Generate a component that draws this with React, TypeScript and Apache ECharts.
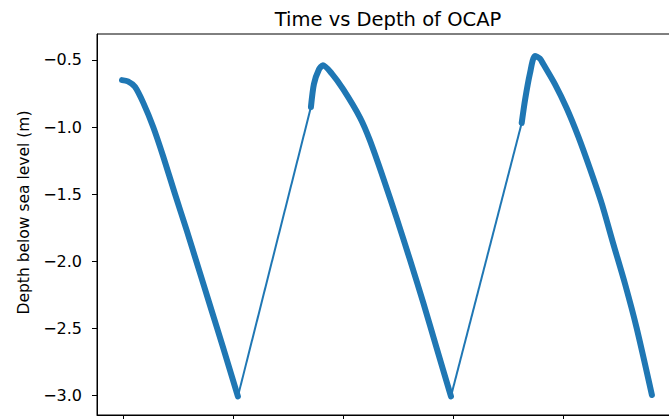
import React, { useEffect, useRef } from "react";
import * as echarts from "echarts";

// Time (x units; tick marks at whole units, labels cut off in the reference)
const timeSeg1 = [-0.009, 0.045, 0.109, 0.185, 0.275, 0.366, 0.473, 0.579, 0.685, 0.791, 0.912, 1.045];
const depthSeg1 = [-0.65, -0.66, -0.7, -0.82, -1.0, -1.22, -1.5, -1.77, -2.05, -2.33, -2.65, -3.01];

const timeSeg2 = [1.709, 1.736, 1.782, 1.818, 1.897, 2.003, 2.155, 2.245, 2.366, 2.488, 2.609, 2.73, 2.852, 2.982];
const depthSeg2 = [-0.85, -0.68, -0.57, -0.54, -0.6, -0.72, -0.93, -1.1, -1.38, -1.68, -1.99, -2.31, -2.65, -3.01];

const timeSeg3 = [3.625, 3.655, 3.7, 3.745, 3.791, 3.821, 3.927, 4.034, 4.139, 4.245, 4.352, 4.457, 4.564, 4.67, 4.809];
const depthSeg3 = [-0.97, -0.8, -0.6, -0.47, -0.49, -0.53, -0.68, -0.86, -1.07, -1.31, -1.57, -1.87, -2.17, -2.5, -3.0];

const xTicks = [0, 1, 2, 3, 4, 5];
const yTicks = [-3.0, -2.5, -2.0, -1.5, -1.0, -0.5];

const TITLE = "Time vs Depth of OCAP";
const Y_LABEL = "Depth below sea level (m)";
const COLOR = "#1f77b4";
const FONT = "DejaVu Sans";

const pairs = (xs: number[], ys: number[]) => xs.map((x, i) => [x, ys[i]]);

export default function App() {
  const ref = useRef<HTMLDivElement>(null);
  useEffect(() => {
    if (!ref.current) return;
    const chart = echarts.init(ref.current, undefined, { renderer: "svg" });
    const seg1 = pairs(timeSeg1, depthSeg1);
    const seg2 = pairs(timeSeg2, depthSeg2);
    const seg3 = pairs(timeSeg3, depthSeg3);
    // straight connecting lines across the data gaps (last point of one run to first of next)
    const gap1 = [seg1[seg1.length - 1], seg2[0]];
    const gap2 = [seg2[seg2.length - 1], seg3[0]];
    const thick = (data: number[][]) => ({
      type: "line",
      data,
      showSymbol: false,
      symbol: "none",
      smooth: 0.25,
      lineStyle: { color: COLOR, width: 6, cap: "round", join: "round" },
      z: 3,
    });
    const thin = (data: number[][]) => ({
      type: "line",
      data,
      showSymbol: false,
      symbol: "none",
      lineStyle: { color: COLOR, width: 2 },
      z: 2,
    });
    chart.setOption({
      animation: false,
      backgroundColor: "#ffffff",
      grid: {
        left: 97,
        top: 34,
        right: 11,
        bottom: 4,
        show: true,
        borderColor: "#000",
        borderWidth: 1,
        backgroundColor: "transparent",
      },
      graphic: [
        {
          type: "text",
          x: 388,
          y: 19,
          style: {
            text: TITLE,
            font: `19.5px "${FONT}"`,
            fill: "#000",
            textAlign: "center",
            textVerticalAlign: "middle",
          },
        },
        {
          type: "text",
          x: 24,
          y: 212.5,
          rotation: Math.PI / 2,
          style: {
            text: Y_LABEL,
            font: `15.5px "${FONT}"`,
            fill: "#000",
            textAlign: "center",
            textVerticalAlign: "middle",
          },
        },
      ],
      xAxis: {
        type: "value",
        min: -0.236,
        max: 5.055,
        axisLine: { show: true, onZero: false, lineStyle: { color: "#000", width: 1 } },
        axisTick: {
          show: true,
          length: 5,
          inside: false,
          customValues: xTicks,
          lineStyle: { color: "#000", width: 1 },
        },
        axisLabel: { show: false },
        splitLine: { show: false },
      },
      yAxis: {
        type: "value",
        min: -3.149,
        max: -0.306,
        axisLine: { show: true, onZero: false, lineStyle: { color: "#000", width: 1 } },
        axisTick: {
          show: true,
          length: 5,
          inside: false,
          customValues: yTicks,
          lineStyle: { color: "#000", width: 1 },
        },
        axisLabel: {
          show: true,
          customValues: yTicks,
          margin: 15,
          color: "#000",
          fontFamily: FONT,
          fontSize: 16,
          formatter: (v: number) => v.toFixed(1).replace("-", "\u2212"),
        },
        splitLine: { show: false },
      },
      series: [thin(gap1), thin(gap2), thick(seg1), thick(seg2), thick(seg3)],
    });
    return () => chart.dispose();
  }, []);
  return (
    <div
      style={{
        position: "fixed",
        left: 0,
        top: 0,
        width: 669,
        height: 419,
        overflow: "hidden",
        background: "#fff",
      }}
    >
      <div ref={ref} style={{ width: 690, height: 419 }} />
    </div>
  );
}
